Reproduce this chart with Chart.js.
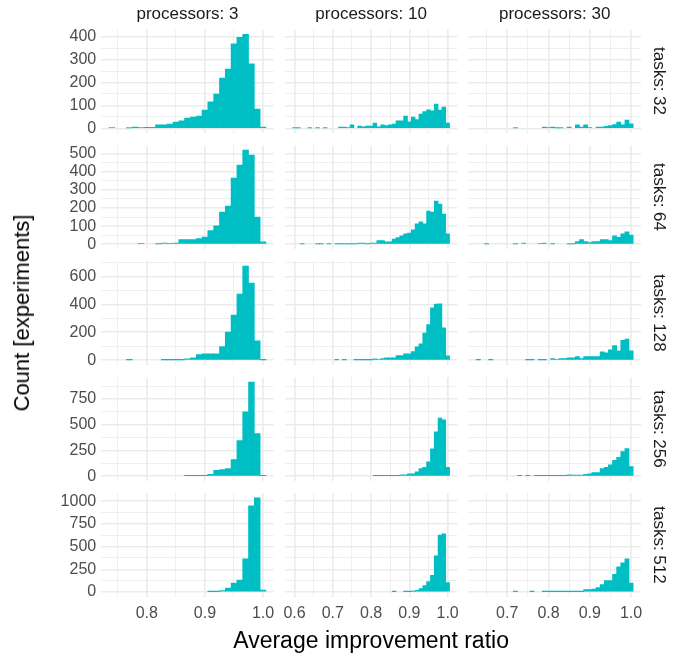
<!DOCTYPE html>
<html lang="en">
<head>
<meta charset="utf-8">
<title>Average improvement ratio</title>
<script src="https://cdn.jsdelivr.net/npm/chart.js@4.4.1/dist/chart.umd.min.js"></script>
<style>
    body {
        margin: 0;
        width: 693px;
        height: 656px;
        position: relative;
        overflow: hidden;
        background: #ffffff;
        font-family: "Liberation Sans", Arial, Helvetica, sans-serif;
    }
    canvas { position: absolute; }
    .txt {
        position: absolute;
        white-space: nowrap;
        line-height: 1;
    }
</style>
</head>
<body>
<script>
// facets
var processors = [3, 10, 30];
var tasks = [32, 64, 128, 256, 512];

// bin centres (bins are 0.01 wide), one list per processors column
var bins_p3 = [0.74, 0.75, 0.76, 0.77, 0.78, 0.79, 0.80, 0.81, 0.82, 0.83, 0.84, 0.85, 0.86, 0.87,
    0.88, 0.89, 0.90, 0.91, 0.92, 0.93, 0.94, 0.95, 0.96, 0.97, 0.98, 0.99, 1.00];
var bins_p10 = [0.60, 0.61, 0.62, 0.63, 0.64, 0.65, 0.66, 0.67, 0.68, 0.69, 0.70, 0.71, 0.72, 0.73,
    0.74, 0.75, 0.76, 0.77, 0.78, 0.79, 0.80, 0.81, 0.82, 0.83, 0.84, 0.85, 0.86, 0.87, 0.88, 0.89,
    0.90, 0.91, 0.92, 0.93, 0.94, 0.95, 0.96, 0.97, 0.98, 0.99, 1.00];
var bins_p30 = [0.63, 0.64, 0.65, 0.66, 0.67, 0.68, 0.69, 0.70, 0.71, 0.72, 0.73, 0.74, 0.75, 0.76,
    0.77, 0.78, 0.79, 0.80, 0.81, 0.82, 0.83, 0.84, 0.85, 0.86, 0.87, 0.88, 0.89, 0.90, 0.91, 0.92,
    0.93, 0.94, 0.95, 0.96, 0.97, 0.98, 0.99, 1.00];

// counts per bin
var p3_t32 = [3, 0, 0, 2, 6, 3, 5, 5, 16, 16, 19, 28, 33, 45, 49, 54, 80, 116, 150, 219, 259, 368, 397, 410, 281, 84, 6];
var p10_t32 = [2, 2, 0, 0, 2, 0, 2, 0, 2, 0, 0, 0, 6, 6, 3, 15, 0, 10, 7, 10, 10, 23, 7, 15, 12, 16, 19, 33, 33, 54,
    29, 49, 38, 62, 73, 81, 77, 106, 80, 93, 23];
var p30_t32 = [0, 0, 0, 0, 0, 0, 0, 0, 0, 2, 0, 0, 0, 0, 0, 0, 6, 3, 6, 2, 2, 0, 6, 0, 15, 6, 15, 4, 0, 6,
    6, 9, 12, 17, 28, 15, 36, 20];

var p3_t64 = [0, 0, 0, 0, 0, 4, 0, 0, 2, 7, 4, 7, 26, 26, 26, 31, 40, 75, 101, 178, 211, 364, 436, 518, 491, 150, 13];
var p10_t64 = [0, 0, 2, 0, 0, 0, 2, 2, 0, 2, 0, 2, 2, 2, 2, 2, 2, 7, 7, 2, 7, 7, 20, 20, 13, 13, 29, 37, 46, 57,
    62, 79, 112, 123, 112, 183, 178, 238, 222, 167, 57];
var p30_t64 = [0, 0, 2, 0, 0, 0, 0, 0, 0, 2, 0, 7, 0, 0, 0, 4, 7, 0, 2, 0, 0, 0, 2, 2, 15, 26, 15, 9, 15, 15,
    26, 26, 20, 46, 38, 57, 68, 51];

var p3_t128 = [0, 0, 0, 2, 0, 0, 0, 0, 0, 2, 2, 2, 2, 10, 17, 40, 45, 45, 45, 98, 202, 324, 474, 674, 552, 138, 2];
var p10_t128 = [0, 0, 0, 0, 0, 0, 0, 0, 0, 0, 0, 2, 0, 2, 0, 0, 2, 2, 2, 2, 2, 10, 5, 12, 17, 17, 17, 33, 33, 45,
    45, 62, 95, 117, 195, 255, 376, 402, 403, 231, 31];
var p30_t128 = [2, 0, 0, 2, 0, 0, 0, 0, 0, 0, 0, 0, 2, 2, 0, 2, 2, 0, 12, 5, 12, 12, 17, 17, 26, 12, 26, 26, 26, 26,
    60, 52, 74, 105, 67, 143, 152, 67];

var p3_t256 = [0, 0, 0, 0, 0, 0, 0, 0, 0, 0, 0, 0, 0, 3, 3, 3, 3, 16, 55, 64, 74, 161, 344, 624, 914, 412, 3];
var p10_t256 = [0, 0, 0, 0, 0, 0, 0, 0, 0, 0, 0, 0, 0, 0, 0, 0, 0, 0, 0, 0, 0, 3, 3, 3, 3, 3, 3, 3, 13, 13,
    23, 23, 42, 74, 84, 138, 264, 431, 563, 547, 84];
var p30_t256 = [0, 0, 0, 0, 0, 0, 0, 0, 0, 0, 3, 0, 3, 0, 3, 3, 3, 3, 3, 3, 3, 3, 13, 10, 10, 10, 16, 23, 35, 35,
    74, 84, 109, 154, 183, 238, 267, 93];

var p3_t512 = [0, 0, 0, 0, 0, 0, 0, 0, 0, 0, 0, 0, 0, 0, 0, 0, 0, 4, 4, 15, 44, 99, 132, 366, 949, 1037, 22];
var p10_t512 = [0, 0, 0, 0, 0, 0, 0, 0, 0, 0, 0, 0, 0, 0, 0, 0, 0, 0, 0, 0, 0, 0, 0, 0, 0, 0, 4, 0, 0, 4,
    4, 7, 18, 37, 70, 114, 183, 399, 626, 641, 103];
var p30_t512 = [0, 0, 0, 0, 0, 0, 0, 0, 0, 4, 0, 0, 0, 4, 0, 0, 4, 4, 4, 4, 4, 4, 4, 4, 4, 4, 26, 26, 33, 48,
    81, 125, 125, 194, 278, 322, 366, 99];

// axis breaks
var xBreaks_p3 = [0.8, 0.9, 1.0];
var xBreaks_p10 = [0.6, 0.7, 0.8, 0.9, 1.0];
var xBreaks_p30 = [0.7, 0.8, 0.9, 1.0];
var yBreaks_t32 = [0, 100, 200, 300, 400];
var yBreaks_t64 = [0, 100, 200, 300, 400, 500];
var yBreaks_t128 = [0, 200, 400, 600];
var yBreaks_t256 = [0, 250, 500, 750];
var yBreaks_t512 = [0, 250, 500, 750, 1000];

var binWidth = 0.01;
var binsByCol = [bins_p3, bins_p10, bins_p30];
var xBreaksByCol = [xBreaks_p3, xBreaks_p10, xBreaks_p30];
var yBreaksByRow = [yBreaks_t32, yBreaks_t64, yBreaks_t128, yBreaks_t256, yBreaks_t512];
var countsGrid = [
    [p3_t32, p10_t32, p30_t32],
    [p3_t64, p10_t64, p30_t64],
    [p3_t128, p10_t128, p30_t128],
    [p3_t256, p10_t256, p30_t256],
    [p3_t512, p10_t512, p30_t512]
];

// layout of the panel grid
var panelLeft = 101.2, panelStepX = 183.6, panelW = 172.6;
var panelTop = 29.6, panelStepY = 115.9, panelH = 103.5;
var yAxisW = 60, xAxisH = 30, margin = 12;

var fill = '#00BFC4';
var gridColor = '#EBEBEB';
var tickColor = '#4D4D4D';
var tickFont = { family: '"Liberation Sans", Arial, sans-serif', size: 16 };

function near(a, b) { return Math.abs(a - b) < 1e-6; }
function isBreak(list, v) {
    for (var i = 0; i < list.length; i++) if (near(list[i], v)) return true;
    return false;
}
// breaks plus the midpoints between them (minor grid) inside [lo, hi]
function withMinor(breaks, lo, hi) {
    var step = (breaks[1] - breaks[0]) / 2, out = [];
    var v = breaks[0] - step * Math.ceil((breaks[0] - lo) / step);
    for (; v <= hi + 1e-9; v += step) {
        var r = Math.round(v * 1e6) / 1e6;
        if (r >= lo - 1e-9) out.push(r);
    }
    return out;
}

function makePanel(r, c) {
    var bins = binsByCol[c];
    var counts = countsGrid[r][c];
    var xBreaks = xBreaksByCol[c];
    var yBreaks = yBreaksByRow[r];
    var firstCol = c === 0, lastRow = r === tasks.length - 1;

    // ggplot-like 5% expansion of the data range
    var lo = bins[0] - binWidth / 2, hi = bins[bins.length - 1] + binWidth / 2;
    var ex = (hi - lo) * 0.05;
    var xmin = lo - ex, xmax = hi + ex;
    var rowMax = 0;
    countsGrid[r].forEach(function (arr) { rowMax = Math.max(rowMax, Math.max.apply(null, arr)); });
    var ymin = -0.05 * rowMax, ymax = 1.05 * rowMax;

    var pl = panelLeft + c * panelStepX, pr = pl + panelW;
    var pt = panelTop + r * panelStepY, pb = pt + panelH;
    var yW = firstCol ? yAxisW : 0, xH = lastRow ? xAxisH : 0;
    var cx = Math.floor(pl) - yW - margin, cy = Math.floor(pt) - margin;
    var cw = Math.ceil(pr) + margin - cx, ch = Math.ceil(pb) + xH + margin - cy;

    var canvas = document.createElement('canvas');
    canvas.width = cw;
    canvas.height = ch;
    canvas.style.left = cx + 'px';
    canvas.style.top = cy + 'px';
    document.body.appendChild(canvas);

    var xTicks = withMinor(xBreaks, xmin, xmax);
    var yTicks = withMinor(yBreaks, ymin, ymax);

    return new Chart(canvas, {
        type: 'bar',
        data: {
            datasets: [{
                data: bins.map(function (b, i) { return { x: b, y: counts[i] > 0 ? counts[i] : null }; }),
                backgroundColor: fill,
                borderWidth: 0,
                barPercentage: 1,
                categoryPercentage: 1
            }]
        },
        options: {
            responsive: false,
            animation: false,
            devicePixelRatio: 1,
            layout: {
                padding: {
                    left: pl - yW - cx,
                    right: cx + cw - pr,
                    top: pt - cy,
                    bottom: cy + ch - pb - xH
                }
            },
            plugins: { legend: { display: false }, tooltip: { enabled: false } },
            scales: {
                x: {
                    type: 'linear',
                    min: xmin,
                    max: xmax,
                    offset: false,
                    border: { display: false },
                    grid: {
                        offset: false,
                        color: gridColor,
                        drawTicks: false,
                        lineWidth: function (ctx) { return isBreak(xBreaks, ctx.tick.value) ? 1.6 : 0.8; }
                    },
                    ticks: {
                        display: lastRow,
                        autoSkip: false,
                        maxRotation: 0,
                        padding: 7,
                        color: tickColor,
                        font: tickFont,
                        callback: function (v) { return isBreak(xBreaks, v) ? v.toFixed(1) : ''; }
                    },
                    afterBuildTicks: function (s) { s.ticks = xTicks.map(function (v) { return { value: v }; }); },
                    afterFit: function (s) { s.height = xH; s.paddingLeft = 0; s.paddingRight = 0; }
                },
                y: {
                    type: 'linear',
                    min: ymin,
                    max: ymax,
                    border: { display: false },
                    grid: {
                        color: gridColor,
                        drawTicks: false,
                        lineWidth: function (ctx) { return isBreak(yBreaks, ctx.tick.value) ? 1.6 : 0.8; }
                    },
                    ticks: {
                        display: firstCol,
                        autoSkip: false,
                        padding: 5,
                        color: tickColor,
                        font: tickFont,
                        callback: function (v) { return isBreak(yBreaks, v) ? String(v) : ''; }
                    },
                    afterBuildTicks: function (s) { s.ticks = yTicks.map(function (v) { return { value: v }; }); },
                    afterFit: function (s) { s.width = yW; s.paddingTop = 0; s.paddingBottom = 0; }
                }
            }
        }
    });
}

function addText(str, x, y, size, color, angle) {
    var d = document.createElement('div');
    d.className = 'txt';
    d.textContent = str;
    d.style.left = x + 'px';
    d.style.top = y + 'px';
    d.style.fontSize = size + 'px';
    d.style.color = color;
    d.style.transform = 'translate(-50%, -50%)' + (angle ? ' rotate(' + angle + 'deg)' : '');
    document.body.appendChild(d);
}

for (var r = 0; r < tasks.length; r++) {
    for (var c = 0; c < processors.length; c++) makePanel(r, c);
}

// strip labels
for (var c = 0; c < processors.length; c++) {
    addText('processors: ' + processors[c], panelLeft + c * panelStepX + panelW / 2, 13, 17, '#1A1A1A', 0);
}
for (var r = 0; r < tasks.length; r++) {
    addText('tasks: ' + tasks[r], 659, panelTop + r * panelStepY + panelH / 2, 17, '#1A1A1A', 90);
}

// axis titles
var gridLeft = panelLeft, gridRight = panelLeft + 2 * panelStepX + panelW;
var gridTop = panelTop, gridBottom = panelTop + 4 * panelStepY + panelH;
addText('Average improvement ratio', (gridLeft + gridRight) / 2, 640, 23, '#000000', 0);
addText('Count [experiments]', 22, (gridTop + gridBottom) / 2, 22, '#000000', -90);
</script>
</body>
</html>
